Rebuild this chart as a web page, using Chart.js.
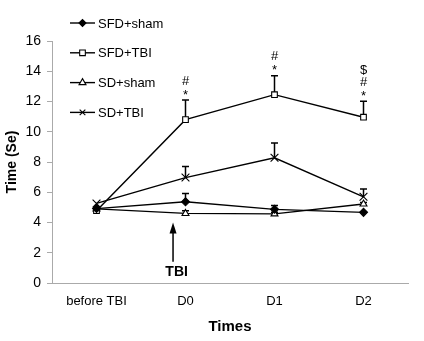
<!DOCTYPE html>
<html>
<head>
<meta charset="utf-8">
<script src="https://cdn.jsdelivr.net/npm/chart.js@4/dist/chart.umd.min.js"></script>
<style>
  html, body { margin: 0; padding: 0; background: #fff; }
  #wrap { width: 424px; height: 341px; }
</style>
</head>
<body>
<div id="wrap"><canvas id="LineChart" width="424" height="341"></canvas></div>
<script>
// categories
var times = ['before TBI', 'D0', 'D1', 'D2'];

// means
var sfdSham = [4.92, 5.37, 4.87, 4.67];
var sfdTbi  = [4.78, 10.8, 12.45, 10.96];
var sdSham  = [4.9, 4.6, 4.57, 5.22];
var sdTbi   = [5.26, 6.97, 8.28, 5.7];

// SE (upper bars only)
var sfdShamErr = [0, 0.55, 0.25, 0];
var sfdTbiErr  = [0, 1.3, 1.25, 1.05];
var sdShamErr  = [0, 0.18, 0.1, 0.1];
var sdTbiErr   = [0, 0.73, 0.97, 0.52];

// significance marks above SFD+TBI (bottom to top)
var marks = [[], ['*', '#'], ['*', '#'], ['*', '#', '$']];

var yTicks = [0, 2, 4, 6, 8, 10, 12, 14, 16];

var FONT = '"Liberation Sans", Arial, sans-serif';

function ds(label, data, err, style, fill) {
  return {
    label: label,
    data: data,
    err: err,
    borderColor: '#000',
    borderWidth: 1.4,
    pointStyle: style,
    pointRadius: style == 'crossRot' ? 5.5 : 4,
    pointBackgroundColor: fill,
    pointBorderColor: '#000',
    pointBorderWidth: 1.1,
    tension: 0,
    fill: false
  };
}

var datasets = [
  ds('SFD+sham', sfdSham, sfdShamErr, 'rectRot', '#000'),
  ds('SFD+TBI', sfdTbi, sfdTbiErr, 'rect', '#fff'),
  ds('SD+sham', sdSham, sdShamErr, 'triangle', '#fff'),
  ds('SD+TBI', sdTbi, sdTbiErr, 'crossRot', '#fff')
];

// error bars, marks, arrow, legend
var extras = {
  id: 'extras',
  beforeDatasetsDraw: function (chart) {
    var ctx = chart.ctx, x = chart.scales.x, y = chart.scales.y;
    ctx.save();
    ctx.strokeStyle = '#000';
    ctx.lineWidth = 1.5;
    chart.data.datasets.forEach(function (d) {
      d.data.forEach(function (v, i) {
        if (!d.err[i]) return;
        var px = x.getPixelForValue(i);
        var p0 = y.getPixelForValue(v), p1 = y.getPixelForValue(v + d.err[i]);
        ctx.beginPath();
        ctx.moveTo(px, p0); ctx.lineTo(px, p1);
        ctx.moveTo(px - 3.5, p1); ctx.lineTo(px + 3.5, p1);
        ctx.stroke();
      });
    });
    ctx.restore();
  },
  afterDraw: function (chart) {
    var ctx = chart.ctx, x = chart.scales.x, y = chart.scales.y;
    ctx.save();
    ctx.fillStyle = '#000';
    ctx.font = '13px ' + FONT;
    ctx.textAlign = 'center';
    ctx.textBaseline = 'middle';
    marks.forEach(function (m, i) {
      var px = x.getPixelForValue(i);
      var top = y.getPixelForValue(sfdTbi[i] + sfdTbiErr[i]);
      m.forEach(function (s, k) {
        var py = top - 7 - k * 12;
        if (s == '*') py += 2;
        ctx.fillText(s, px, py);
      });
    });

    // TBI arrow
    var ax = x.getPixelForValue(0.86);
    var tip = y.getPixelForValue(4.0), tail = y.getPixelForValue(1.4);
    ctx.strokeStyle = '#000';
    ctx.lineWidth = 1.5;
    ctx.beginPath();
    ctx.moveTo(ax, tail); ctx.lineTo(ax, tip + 8);
    ctx.stroke();
    ctx.beginPath();
    ctx.moveTo(ax, tip); ctx.lineTo(ax - 3.5, tip + 11); ctx.lineTo(ax + 3.5, tip + 11);
    ctx.closePath(); ctx.fill();
    ctx.font = 'bold 14px ' + FONT;
    ctx.fillText('TBI', x.getPixelForValue(0.9), y.getPixelForValue(0.73));

    // legend
    ctx.font = '13px ' + FONT;
    ctx.textAlign = 'left';
    chart.data.datasets.forEach(function (d, i) {
      var ly = 23 + i * 29.8;
      ctx.beginPath();
      ctx.moveTo(70, ly); ctx.lineTo(95, ly);
      ctx.lineWidth = 1.4;
      ctx.stroke();
      ctx.fillStyle = d.pointBackgroundColor;
      ctx.lineWidth = 1.1;
      Chart.helpers.drawPoint(ctx, {
        pointStyle: d.pointStyle, radius: d.pointStyle == 'rectRot' ? 3.5 : 4, rotation: 0, borderWidth: 1.1
      }, 82.5, ly);
      ctx.fillStyle = '#000';
      ctx.fillText(d.label, 98, ly + 1);
    });
    ctx.restore();
  }
};

var LineChart = new Chart(document.getElementById('LineChart').getContext('2d'), {
  type: 'line',
  data: { labels: times, datasets: datasets },
  plugins: [extras],
  options: {
    responsive: false,
    animation: false,
    layout: { padding: { left: 0, right: 16, top: 41, bottom: 0 } },
    plugins: { legend: { display: false }, tooltip: { enabled: false } },
    scales: {
      x: {
        offset: true,
        grid: { display: false },
        border: { color: '#aaa', width: 1 },
        ticks: { color: '#000', font: { family: FONT, size: 13 }, padding: 3, maxRotation: 0 },
        title: { display: true, text: 'Times', color: '#000', font: { family: FONT, size: 15, weight: 'bold' }, padding: { top: 4, bottom: 5 } },
        afterFit: function (s) { s.height = 58; }
      },
      y: {
        min: 0, max: 16,
        afterBuildTicks: function (s) { s.ticks = yTicks.map(function (v) { return { value: v }; }); },
        grid: { drawOnChartArea: false, tickLength: 5, color: '#aaa' },
        border: { color: '#aaa', width: 1 },
        ticks: { color: '#000', font: { family: FONT, size: 14 }, padding: 6 },
        title: { display: true, text: 'Time (Se)', color: '#000', font: { family: FONT, size: 14, weight: 'bold' }, padding: { bottom: 2 } },
        afterFit: function (s) { s.width = 52; }
      }
    }
  }
});
</script>
</body>
</html>
